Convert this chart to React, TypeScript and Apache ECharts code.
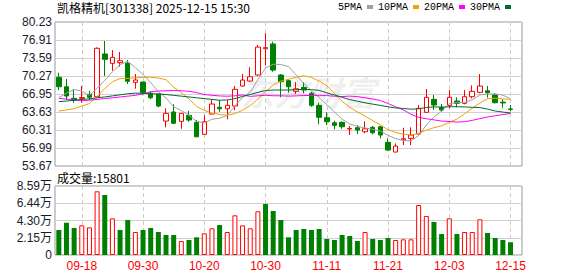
import React, { useEffect, useRef } from 'react';
import * as echarts from 'echarts';

const stockTitle = '凯格精机[301338] 2025-12-15 15:30';

const dates = [
  '09-15', '09-16', '09-17', '09-18', '09-19', '09-22', '09-23', '09-24', '09-25', '09-26',
  '09-29', '09-30', '10-09', '10-10', '10-13', '10-14', '10-15', '10-16', '10-17', '10-20',
  '10-21', '10-22', '10-23', '10-24', '10-27', '10-28', '10-29', '10-30', '10-31', '11-03',
  '11-04', '11-05', '11-06', '11-07', '11-10', '11-11', '11-12', '11-13', '11-14', '11-17',
  '11-18', '11-19', '11-20', '11-21', '11-24', '11-25', '11-26', '11-27', '11-28', '12-01',
  '12-02', '12-03', '12-04', '12-05', '12-08', '12-09', '12-10', '12-11', '12-12', '12-15',
];

const xTickLabels = ['09-18', '09-30', '10-20', '10-30', '11-11', '11-21', '12-03', '12-15'];
const priceTicks = ['53.67', '56.99', '60.31', '63.63', '66.95', '70.27', '73.59', '76.91', '80.23'];
const volTicks = ['0', '2.15万', '4.30万', '6.44万', '8.59万'];
const volAxisMax = 85900;

const opens = [
  70.03, 68.29, 66.15, 66.15, 66.89, 66.45, 74.33, 72.61, 72.73, 72.61,
  69.1, 69.16, 67.07, 66.95, 61.96, 63.63, 61.91, 63.02, 61.73, 59.51,
  63.26, 64.49, 64.23, 64.73, 68.42, 69.34, 70.45, 75.3, 76.17, 70.45,
  69.4, 67.44, 68.18, 67.08, 64.86, 62.57, 61.65, 61.73, 60.5, 60.73,
  59.99, 60.8, 60.91, 58.03, 56.24, 58.5, 58.77, 59.57, 63.57, 65.97,
  64.49, 64.86, 65.65, 65.23, 66.45, 67.26, 67.55, 66.76, 65.45, 64.2,
];
const closes = [
  68.29, 66.58, 65.78, 66.3, 66.36, 75.38, 73.35, 73.72, 73.09, 69.29,
  69.53, 67.19, 66.26, 64.73, 63.38, 61.54, 63.38, 62.15, 59.07, 61.84,
  65.1, 64.23, 64.86, 67.81, 69.53, 70.14, 75.6, 75.5, 71.37, 69.22,
  68.29, 67.92, 67.68, 64.86, 62.65, 61.84, 61.17, 60.91, 60.6, 60.3,
  60.54, 59.81, 59.38, 56.61, 57.35, 58.7, 59.38, 64.31, 66.34, 64.92,
  63.99, 66.34, 65.23, 66.45, 67.44, 68.42, 67.19, 65.34, 65.3, 64.1,
];
const lows = [
  67.68, 65.84, 65.34, 65.34, 65.84, 66.34, 70.27, 71.24, 71.98, 68.79,
  67.93, 66.76, 66.0, 64.49, 60.8, 61.5, 60.54, 61.83, 58.96, 59.5,
  63.2, 63.68, 62.28, 63.99, 68.3, 69.2, 70.27, 72.3, 71.06, 66.34,
  67.19, 66.95, 67.08, 64.6, 61.36, 61.23, 60.43, 60.54, 59.38, 59.57,
  59.69, 59.51, 58.77, 56.5, 56.24, 57.54, 57.54, 59.5, 63.5, 63.99,
  63.68, 64.31, 64.49, 65.05, 66.15, 67.08, 66.26, 65.23, 64.42, 63.75,
];
const highs = [
  70.88, 69.71, 67.81, 68.42, 67.55, 75.56, 76.73, 75.06, 74.69, 73.22,
  70.64, 69.2, 67.5, 67.0, 64.31, 65.05, 63.4, 63.86, 62.15, 63.02,
  65.84, 65.84, 65.84, 68.42, 70.64, 71.87, 75.99, 78.15, 76.6, 70.64,
  69.66, 69.16, 69.16, 67.37, 65.34, 63.57, 62.02, 61.9, 61.04, 61.17,
  61.91, 61.04, 61.04, 58.77, 57.85, 60.73, 60.8, 64.92, 67.87, 66.76,
  65.1, 67.68, 66.34, 67.68, 68.55, 70.64, 68.42, 67.07, 65.97, 64.92,
];

const volumes = [
  31100, 40300, 33600, 36900, 34400, 79300, 74700, 45600, 31100, 43600,
  28600, 31100, 33600, 28600, 24900, 24900, 17400, 18700, 22000, 27000,
  33200, 37300, 28600, 49400, 36900, 33200, 54400, 63500, 54800, 43600,
  22000, 31100, 32400, 31100, 32400, 19900, 18700, 24900, 23700, 17400,
  28600, 19900, 18700, 21200, 18700, 19500, 19500, 62200, 48600, 41100,
  26100, 45600, 26100, 28600, 28600, 44400, 27400, 21200, 18700, 15801,
];
// 1 = red (up), -1 = green (down), as drawn in the volume panel
const volDir = [
  -1, -1, -1, 1, 1, 1, -1, 1, -1, -1,
  1, -1, -1, -1, -1, -1, 1, -1, -1, 1,
  1, -1, 1, 1, 1, 1, 1, -1, -1, -1,
  -1, -1, -1, -1, -1, -1, -1, -1, -1, -1,
  1, -1, -1, -1, 1, 1, 1, 1, 1, -1,
  -1, 1, -1, 1, 1, 1, -1, -1, -1, -1,
];

const ma5 = [
  66.3, 67.1, 67.8, 67.45, 66.7, 68.0, 69.45, 71.04, 72.38, 72.97,
  71.8, 70.56, 69.07, 67.4, 66.22, 64.62, 63.86, 63.04, 61.9, 61.6,
  62.31, 62.48, 63.02, 64.77, 66.31, 67.31, 69.58, 71.73, 72.44, 72.38,
  72.01, 70.48, 68.9, 67.59, 66.28, 64.99, 63.64, 62.29, 61.43, 60.96,
  60.7, 60.43, 60.13, 59.33, 58.74, 58.37, 58.28, 59.27, 61.22, 62.73,
  63.79, 65.18, 65.36, 65.39, 65.89, 66.78, 66.95, 66.97, 66.74, 66.07,
];
const ma10 = [
  63.8, 64.0, 64.27, 64.73, 65.19, 66.5, 67.95, 69.2, 69.8, 69.82,
  69.95, 70.01, 70.06, 69.89, 69.59, 68.21, 67.21, 66.05, 64.65, 63.91,
  63.46, 63.17, 63.03, 63.34, 63.95, 64.81, 66.03, 67.37, 68.6, 69.34,
  69.66, 70.03, 70.31, 70.02, 69.33, 68.5, 67.06, 65.59, 64.51, 63.62,
  62.85, 62.04, 61.21, 60.38, 59.85, 59.54, 59.36, 59.7, 60.27, 60.73,
  61.08, 61.73, 62.32, 63.3, 64.31, 65.28, 66.06, 66.17, 66.06, 65.98,
];
const ma20 = [
  66.15, 66.0, 65.85, 65.75, 65.8, 65.95, 66.1, 66.25, 66.4, 66.55,
  66.7, 67.0, 67.35, 67.5, 67.55, 67.6, 67.55, 67.45, 67.2, 66.86,
  66.71, 66.59, 66.54, 66.61, 66.77, 66.51, 66.62, 66.71, 66.63, 66.62,
  66.56, 66.6, 66.67, 66.68, 66.64, 66.66, 66.54, 66.48, 66.56, 66.48,
  66.25, 66.03, 65.76, 65.2, 64.59, 64.02, 63.21, 62.64, 62.39, 62.18,
  61.96, 61.88, 61.76, 61.84, 62.08, 62.41, 62.71, 62.93, 63.17, 63.36,
];
const ma30 = [
  65.55, 65.65, 65.8, 65.95, 66.05, 66.25, 66.4, 66.6, 66.8, 67.0,
  67.1, 67.1, 67.0, 66.95, 66.85, 66.7, 66.55, 66.4, 66.25, 66.1,
  65.95, 65.8, 65.85, 66.1, 66.5, 66.85, 67.25, 67.6, 67.68, 67.69,
  67.69, 67.74, 67.8, 67.75, 67.62, 67.17, 66.77, 66.34, 65.92, 65.62,
  65.32, 65.08, 64.85, 64.58, 64.38, 64.28, 64.15, 64.22, 64.46, 64.57,
  64.53, 64.6, 64.61, 64.57, 64.5, 64.44, 64.16, 63.82, 63.62, 63.45,
];

const maSeries = [
  { name: '5PMA', data: ma5, color: '#a0a0a0' },
  { name: '10PMA', data: ma10, color: '#f0a000' },
  { name: '20PMA', data: ma20, color: '#ff00ff' },
  { name: '30PMA', data: ma30, color: '#006a30' },
];

const UP = '#ff0000';
const DOWN = '#008000';
const LABEL_FONT = 'Liberation Sans, Arial, Noto Sans CJK SC, sans-serif';

export default function App() {
  const ref = useRef<HTMLDivElement>(null);

  useEffect(() => {
    if (!ref.current) return;
    const chart = echarts.init(ref.current, null, { renderer: 'svg' });

    const pMin = parseFloat(priceTicks[0]);
    const pMax = parseFloat(priceTicks[priceTicks.length - 1]);
    const pInt = (pMax - pMin) / (priceTicks.length - 1);
    const vInt = volAxisMax / (volTicks.length - 1);

    const showTick = (_i: number, v: string) => xTickLabels.indexOf(v) >= 0;

    const candleData = dates.map((_, i) => [opens[i], closes[i], lows[i], highs[i]]);
    const volData = volumes.map((v, i) => ({
      value: v,
      itemStyle:
        volDir[i] > 0
          ? { color: '#ffffff', borderColor: UP, borderWidth: 1 }
          : { color: DOWN, borderColor: DOWN, borderWidth: 0 },
    }));

    const option: any = {
      animation: false,
      backgroundColor: '#ffffff',
      title: [
        {
          text: stockTitle,
          left: 57,
          top: 1,
          padding: 0,
          textStyle: { fontSize: 12, fontWeight: 'normal', color: '#000', fontFamily: 'Noto Sans CJK SC' },
        },
        {
          text: '成交量:' + volumes[volumes.length - 1],
          left: 57,
          top: 171,
          padding: 0,
          textStyle: { fontSize: 12, fontWeight: 'normal', color: '#000', fontFamily: 'Noto Sans CJK SC' },
        },
      ],
      legend: {
        data: maSeries.map((m) => m.name),
        left: 338,
        top: 2,
        padding: 0,
        align: 'right',
        icon: 'rect',
        itemWidth: 6,
        itemHeight: 4,
        itemGap: 5,
        selectedMode: false,
        textStyle: { fontFamily: 'Liberation Mono', fontSize: 10, color: '#000' },
      },
      graphic: [
        {
          type: 'text',
          left: 240,
          top: 74,
          z: -1,
          silent: true,
          style: {
            text: '东方财富',
            fontSize: 34,
            fontWeight: 'bold',
            fontStyle: 'italic',
            fontFamily: 'Noto Sans CJK SC',
            fill: 'rgba(0,0,0,0.07)',
          },
        },
      ],
      grid: [
        { left: 55, top: 22, width: 467, height: 144, show: true, borderColor: '#999', borderWidth: 1, backgroundColor: 'transparent' },
        { left: 55, top: 186, width: 467, height: 69, show: true, borderColor: '#999', borderWidth: 1, backgroundColor: 'transparent' },
      ],
      xAxis: [
        {
          type: 'category',
          gridIndex: 0,
          data: dates,
          max: dates.length,
          boundaryGap: true,
          axisLine: { show: false },
          axisTick: { show: false },
          axisLabel: { show: false },
          splitLine: {
            show: true,
            interval: showTick,
            alignWithLabel: true,
            lineStyle: { color: '#cccccc', type: [4, 3], width: 1 },
          },
        },
        {
          type: 'category',
          gridIndex: 1,
          data: dates,
          max: dates.length,
          boundaryGap: true,
          axisLine: { show: false },
          axisTick: { show: false },
          axisLabel: {
            show: true,
            interval: showTick,
            color: '#ff0000',
            fontSize: 12,
            fontFamily: LABEL_FONT,
            margin: 5,
          },
          splitLine: {
            show: true,
            interval: showTick,
            alignWithLabel: true,
            lineStyle: { color: '#cccccc', type: [4, 3], width: 1 },
          },
        },
      ],
      yAxis: [
        {
          type: 'value',
          gridIndex: 0,
          min: pMin,
          max: pMax,
          interval: pInt,
          axisLine: { show: false },
          axisTick: { show: false },
          axisLabel: {
            color: '#1a1a2e',
            fontSize: 12,
            fontFamily: LABEL_FONT,
            margin: 3,
            formatter: (v: number) => priceTicks[Math.round((v - pMin) / pInt)] ?? '',
          },
          splitLine: { show: true, lineStyle: { color: '#d0d0d0', width: 1 } },
        },
        {
          type: 'value',
          gridIndex: 1,
          min: 0,
          max: volAxisMax,
          interval: vInt,
          axisLine: { show: false },
          axisTick: { show: false },
          axisLabel: {
            color: '#1a1a2e',
            fontSize: 12,
            fontFamily: LABEL_FONT,
            margin: 3,
            formatter: (v: number) => volTicks[Math.round(v / vInt)] ?? '',
          },
          splitLine: { show: true, lineStyle: { color: '#d0d0d0', width: 1 } },
        },
      ],
      series: [
        {
          type: 'candlestick',
          name: 'K',
          xAxisIndex: 0,
          yAxisIndex: 0,
          data: candleData,
          barWidth: 5,
          itemStyle: {
            color: '#ffffff',
            color0: DOWN,
            borderColor: UP,
            borderColor0: DOWN,
            borderWidth: 1,
          },
        },
        ...maSeries.map((m) => ({
          type: 'line',
          name: m.name,
          xAxisIndex: 0,
          yAxisIndex: 0,
          data: m.data,
          symbol: 'none',
          smooth: false,
          color: m.color,
          lineStyle: { width: 1, color: m.color },
          itemStyle: { color: m.color },
          z: 3,
        })),
        {
          type: 'bar',
          name: 'VOL',
          xAxisIndex: 1,
          yAxisIndex: 1,
          data: volData,
          barWidth: 5,
        },
      ],
    };

    chart.setOption(option);
    return () => chart.dispose();
  }, []);

  return <div ref={ref} style={{ width: 578, height: 276, position: 'absolute', left: 0, top: 0 }} />;
}
